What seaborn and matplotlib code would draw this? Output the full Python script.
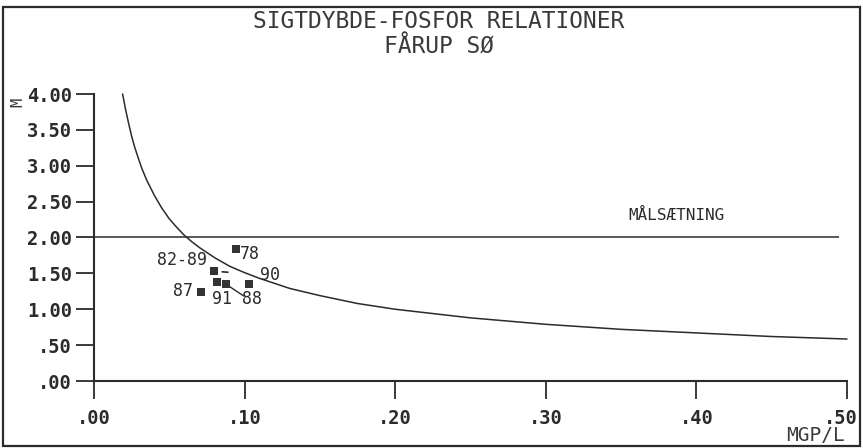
import matplotlib
matplotlib.use("Agg")
import matplotlib.pyplot as plt
import matplotlib.transforms as mtransforms
import seaborn as sns
import pandas as pd
from matplotlib.patches import Rectangle

# ---- data ----
curve_x = [0.019, 0.021, 0.023, 0.025, 0.027, 0.030, 0.032, 0.035, 0.040, 0.045,
           0.050, 0.055, 0.060, 0.065, 0.070, 0.080, 0.090, 0.100, 0.110, 0.120,
           0.130, 0.150, 0.175, 0.200, 0.250, 0.300, 0.350, 0.400, 0.450, 0.500]
curve_y = [4.00, 3.78, 3.59, 3.41, 3.26, 3.07, 2.95, 2.80, 2.59, 2.41,
           2.26, 2.14, 2.03, 1.94, 1.86, 1.72, 1.60, 1.51, 1.43, 1.36,
           1.29, 1.19, 1.08, 1.00, 0.88, 0.79, 0.72, 0.67, 0.62, 0.585]

point_labels = ["78", "82-89", "87", "91", "88", "90"]
point_x = [0.0945, 0.0796, 0.0710, 0.0816, 0.0876, 0.1028]
point_y = [1.84, 1.53, 1.24, 1.38, 1.35, 1.35]

target_level = 2.00
target_label = "MÅLSÆTNING"

x_ticks = [0.0, 0.1, 0.2, 0.3, 0.4, 0.5]
x_ticklabels = [".00", ".10", ".20", ".30", ".40", ".50"]
y_ticks = [0.0, 0.5, 1.0, 1.5, 2.0, 2.5, 3.0, 3.5, 4.0]
y_ticklabels = [".00", ".50", "1.00", "1.50", "2.00", "2.50", "3.00", "3.50", "4.00"]

title1 = "SIGTDYBDE-FOSFOR RELATIONER"
title2 = "FÅRUP SØ"
x_unit = "MGP/L"
y_unit = "M"

# ---- styling ----
sns.set_theme(style="white")
plt.rcParams["font.family"] = ["DejaVu Sans Mono", "DejaVu Sans"]
ink = "#2b2b2b"

W, H = 863, 448
fig = plt.figure(figsize=(W / 100, H / 100), dpi=100)
ax = fig.add_axes([94 / W, 1 - 381 / H, (847 - 94) / W, (381 - 94) / H])

curve_df = pd.DataFrame({"x": curve_x, "y": curve_y})
pts_df = pd.DataFrame({"x": point_x, "y": point_y, "label": point_labels})

sns.lineplot(data=curve_df, x="x", y="y", ax=ax, color=ink, lw=1.1,
             sort=True, estimator=None, clip_on=False)
ax.hlines(target_level, 0.0, 0.495, color=ink, lw=1.1)
sns.scatterplot(data=pts_df, x="x", y="y", ax=ax, marker="s", s=36,
                color="#333333", edgecolor="#333333", linewidth=0, zorder=5)

# point labels (offsets in pixels)
offsets = {"78": (4, -5, "left"), "82-89": (-7, 11, "right"), "87": (-8, 1, "right"),
           "91": (5, -17, "center"), "88": (26, -15, "center"), "90": (21, 9, "center")}
for lab, px, py in zip(point_labels, point_x, point_y):
    dx, dy, ha = offsets[lab]
    ax.annotate(lab, (px, py), xytext=(dx, dy), textcoords="offset pixels",
                ha=ha, va="center", fontsize=12, color=ink)

# leader lines
i88 = point_labels.index("88")
ax.annotate("", xy=(point_x[i88], point_y[i88]), xytext=(18, -12),
            textcoords="offset pixels",
            arrowprops=dict(arrowstyle="-", color=ink, lw=1.0, shrinkA=0, shrinkB=3))
i82 = point_labels.index("82-89")
ax.annotate("", xy=(point_x[i82], point_y[i82]), xytext=(14, -1),
            textcoords="offset pixels",
            arrowprops=dict(arrowstyle="-", color=ink, lw=1.2, shrinkA=0, shrinkB=6))

ax.text(0.3546, target_level + 0.30, target_label, fontsize=11.5, color=ink,
        ha="left", va="center")

ax.set_xlim(0, 0.5)
ax.set_ylim(0, 4.0)
ax.set_xticks(x_ticks)
ax.set_xticklabels(x_ticklabels)
ax.set_yticks(y_ticks)
ax.set_yticklabels(y_ticklabels)
ax.set_xlabel("")
ax.set_ylabel("")
for lbl in ax.get_xticklabels() + ax.get_yticklabels():
    lbl.set_fontweight("bold")
    lbl.set_fontsize(13.5)
    lbl.set_color(ink)
ax.tick_params(axis="x", direction="out", length=13, width=1.3, colors=ink, pad=7, bottom=True)
ax.tick_params(axis="y", direction="out", length=13, width=1.3, colors=ink, pad=3, left=True)
# nudge the last x label so it stays inside the frame
last = ax.get_xticklabels()[-1]
last.set_transform(last.get_transform() +
                   mtransforms.ScaledTranslation(-6 / 100, 0, fig.dpi_scale_trans))
sns.despine(ax=ax, top=True, right=True)
for sp in ["left", "bottom"]:
    ax.spines[sp].set_color(ink)
    ax.spines[sp].set_linewidth(1.5)
ax.patch.set_alpha(0)

# titles and units
fig.text(439 / W, 1 - 22 / H, title1, ha="center", va="center", fontsize=16.5, color="#3a3a3a")
fig.text(439 / W, 1 - 47 / H, title2, ha="center", va="center", fontsize=16.5, color="#3a3a3a")
fig.text(845 / W, 1 - 435 / H, x_unit, ha="right", va="center", fontsize=14, color="#3a3a3a")
fig.text(18 / W, 1 - 102 / H, y_unit, ha="center", va="center", fontsize=11,
         rotation=90, color="#3a3a3a")

# outer frame
fig.add_artist(Rectangle((3 / W, 2 / H), 857 / W, 439 / H, transform=fig.transFigure,
                         fill=False, lw=1.6, edgecolor=ink))

fig.savefig("out.png", dpi=100)
